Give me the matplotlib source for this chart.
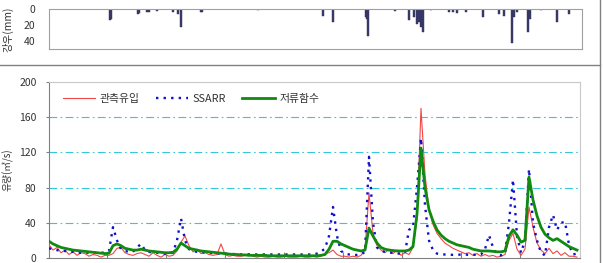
import matplotlib
matplotlib.use("Agg")
import matplotlib.pyplot as plt
from matplotlib.lines import Line2D

plt.rcParams['font.family'] = ['Noto Sans CJK KR', 'DejaVu Sans']

# ---------------- data ----------------
# daily-step index positions (0 .. 132)
observed = [15, 9, 12, 6, 9, 4, 7, 3, 6, 5, 2, 4, 3, 1, 3, 3, 5, 11, 12, 6,
            4, 3, 5, 6, 4, 2, 6, 3, 1, 4, 2, 3, 8, 18, 25, 14, 7, 10, 5, 6,
            4, 3, 4, 16, 4, 2, 3, 2, 2, 3, 5, 2, 1, 2, 1, 1, 2, 1, 1, 2,
            1, 1, 1, 2, 1, 1, 2, 1, 2, 5, 6, 9, 4, 2, 2, 1, 2, 1, 3, 10,
            74, 28, 14, 9, 6, 10, 5, 9, 3, 6, 4, 12, 45, 170, 95, 55, 38, 28, 22, 17,
            14, 11, 9, 7, 5, 6, 3, 5, 2, 4, 2, 3, 1, 2, 4, 20, 28, 10, 3, 10,
            58, 35, 17, 9, 5, 11, 5, 8, 3, 6, 2, 2, 1]
ssarr = [11, 10, 9, 8, 8, 7, 7, 6, 6, 6, 6, 6, 6, 6, 6, 8, 35, 20, 10, 8,
         7, 7, 12, 16, 9, 7, 6, 6, 5, 5, 5, 6, 20, 45, 20, 10, 8, 7, 7, 6,
         6, 5.5, 5, 5, 5, 4.5, 4.5, 4.5, 4, 4, 4, 4, 4, 4, 4, 4, 4, 4, 4, 4,
         4, 4, 4, 4, 4, 4, 4, 5, 7, 11, 25, 58, 25, 8, 5, 4, 3.5, 3.5, 4, 7,
         115, 40, 12, 8, 7, 6, 6, 5, 5, 6, 32, 35, 80, 136, 60, 20, 9, 5, 4, 4,
         4, 3.5, 3.5, 4, 4, 3.5, 3.5, 4, 4, 10, 26, 12, 4, 3, 5, 40, 89, 25, 6, 20,
         101, 40, 20, 6, 3, 35, 49, 32, 40, 41, 15, 4, 5]
storage = [19, 16, 14, 12, 11, 10, 9, 8.5, 8, 7.5, 7, 6.5, 6, 5.5, 5, 5.5, 14, 16, 14, 11,
           10, 9, 9, 10, 9, 8, 7.5, 7, 6.5, 6, 6, 6.5, 10, 17, 14, 11, 10, 9, 8, 7.5,
           7, 6.5, 6, 5.5, 5, 4.5, 4, 4, 3.5, 3.5, 3, 3, 3, 3, 3, 2.5, 2.5, 2.5, 2.5, 2.5,
           2.5, 2.5, 2.5, 2.5, 2.5, 2.5, 2.5, 2.5, 3, 4, 10, 19, 19, 16, 14, 12, 10, 9, 8, 9,
           34, 25, 17, 12, 10, 9, 8.5, 8, 8, 8, 9, 13, 50, 125, 80, 55, 42, 32, 26, 22,
           19, 17, 15, 14, 13, 12, 10, 9, 8, 8, 8, 7.5, 7, 7, 8, 25, 32, 26, 18, 20,
           92, 66, 48, 35, 27, 23, 20, 22, 19, 16, 13, 11, 9]

rain_day = [15.25, 15.5, 22.25, 22.5, 24.5, 25, 27, 31, 32.25, 33, 38, 38.25, 52.25,
            68.5, 71, 79.25, 79.5, 79.75, 86.5, 90, 91.25, 92, 92.5, 93, 93.5, 95.5,
            100, 101, 102, 104.25, 108.5, 112.5, 113.75, 115.75, 116.25, 117,
            119.75, 120.25, 123, 127, 130]
rain_mm = [14, 12, 6, 5, 3, 3.5, 2, 3, 5.6, 22, 3.5, 3.5, 1,
           8, 16, 10, 12, 33, 2.6, 14, 10, 18, 16, 22, 29, 1,
           3.4, 3.4, 4.7, 3.4, 10, 5.6, 8, 43, 10, 3,
           29, 12, 1, 16, 5.6]

month_ticks = [14.5, 29.25, 44, 58.75, 73.5, 88.25, 103, 117.75]
q_ticks = [0, 40, 80, 120, 160, 200]
r_ticks = [0, 20, 40]
series_names = ['관측유입', 'SSARR', '저류함수']

# ---------------- figure ----------------
W, H = 603, 263
fig = plt.figure(figsize=(W / 100, H / 100), dpi=100)

def rect(l, t, r, b):
    return [l / W, (H - b) / H, (r - l) / W, (b - t) / H]

frame_gray = '#a0a0a0'
txt_col = '#333333'

# top rainfall panel
ax1 = fig.add_axes(rect(49, 8.5, 582, 49))
ax1.bar(rain_day, rain_mm, width=0.5, color='#3c3c6e', edgecolor='#2a2a50',
        linewidth=0.3, align='center')
ax1.set_xlim(0, 133.25)
ax1.set_ylim(50, -1)
ax1.set_yticks(r_ticks)
ax1.set_xticks([])
for s in ax1.spines.values():
    s.set_color(frame_gray)
    s.set_linewidth(0.8)
ax1.tick_params(axis='y', length=0, pad=10, labelsize=7.5, colors=txt_col)
ax1.set_ylabel('강우(mm)', fontsize=7.5, color=txt_col)
ax1.yaxis.set_label_coords(-0.066, 0.5)

# bottom discharge panel
ax2 = fig.add_axes(rect(49, 82, 580, 258))
x = list(range(len(observed)))
for g in q_ticks[1:-1]:
    ax2.axhline(g, color='#33c8dc', lw=0.8, linestyle=(0, (7, 3, 1.5, 3)), zorder=1)
ax2.plot(x, observed, color='#f04848', lw=0.8, label=series_names[0], zorder=3)
ax2.plot(x, ssarr, color='#1010cc', lw=1.7, linestyle=(0, (1, 2.2)),
         label=series_names[1], zorder=4)
ax2.plot(x, storage, color='#108a10', lw=2.0, label=series_names[2], zorder=5)
ax2.set_xlim(0, 132.75)
ax2.set_ylim(0, 200)
ax2.set_yticks(q_ticks)
ax2.set_xticks(month_ticks)
ax2.set_xticklabels([])
ax2.tick_params(axis='x', direction='in', length=4, color='#808080', width=0.8)
ax2.tick_params(axis='y', length=2, pad=7, labelsize=7.5, colors=txt_col, color='#808080')
for name, s in ax2.spines.items():
    s.set_color('#c8c8c8')
    s.set_linewidth(0.8)
ax2.spines['left'].set_color('#808080')
ax2.spines['bottom'].set_color('#808080')
ax2.set_ylabel('유량(㎥/s)', fontsize=7, color=txt_col)
ax2.yaxis.set_label_coords(-0.066, 0.5)

leg = ax2.legend(loc='center left', bbox_to_anchor=(0.026, 0.903), ncol=3,
                 frameon=False, fontsize=7.8, handlelength=3.0, handletextpad=0.4,
                 columnspacing=1.5, borderpad=0, borderaxespad=0)
for t in leg.get_texts():
    t.set_color(txt_col)

# outer separator lines
fig.add_artist(Line2D([0, 600 / W], [(H - 65) / H] * 2, color='#808080', lw=1.0))
fig.add_artist(Line2D([600 / W] * 2, [0, 1], color='#808080', lw=1.0))

fig.savefig('out.png', dpi=100)
